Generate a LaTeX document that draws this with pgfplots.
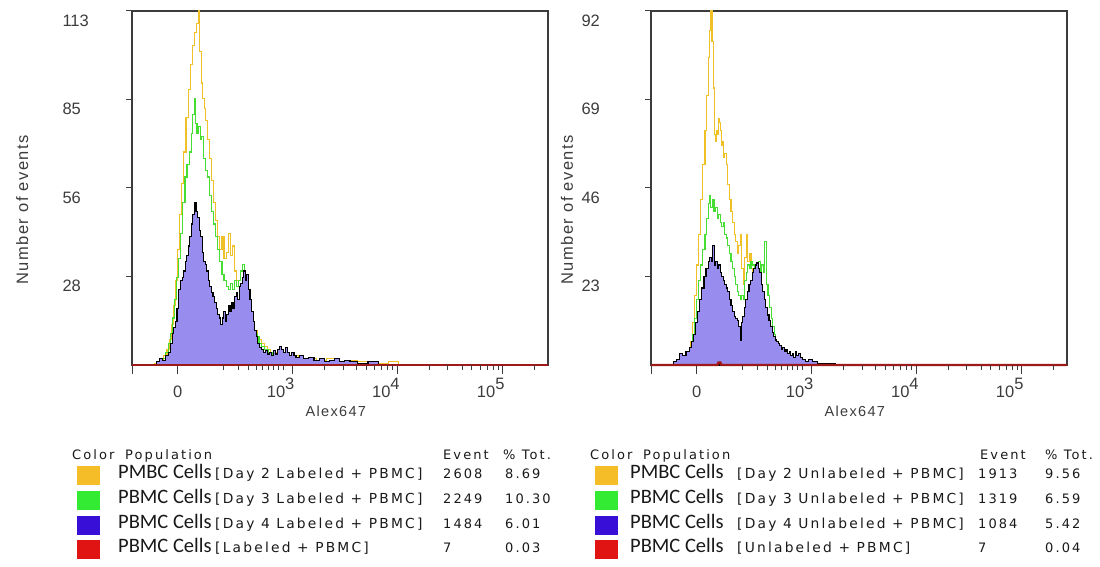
\documentclass[border=0pt]{standalone}
\usepackage{fontspec}
\setmainfont{Liberation Sans}
\newfontfamily\lsw[LetterSpace=9]{Liberation Sans}
\newfontfamily\dvw[LetterSpace=16]{DejaVu Sans}
\newfontfamily\carl{Carlito}
\usepackage{pgfplots}
\pgfplotsset{compat=1.18}

\definecolor{yel}{RGB}{240,192,40}
\definecolor{grn}{RGB}{70,222,50}
\definecolor{lav}{RGB}{152,140,238}
\definecolor{dred}{RGB}{160,25,25}
\definecolor{sqy}{RGB}{245,190,40}
\definecolor{sqg}{RGB}{50,235,50}
\definecolor{sqb}{RGB}{55,15,215}
\definecolor{sqr}{RGB}{225,20,20}
\definecolor{axc}{RGB}{60,60,60}

\newcommand\ticf{\fontsize{16.5}{17}\selectfont}
\newcommand\dec[1]{10\raisebox{8pt}{#1}\kern24pt}
% positions of the short ticks on the Alex647 axis
\newcommand\minorlist{0.44,0.59,0.69,0.765,0.825,0.88,0.93,0.975,1.025,1.43,1.61,1.735,1.835,1.915,1.985,2.04,2.09,2.445,2.625,2.77,2.86,2.94,3.01,3.065,3.115,3.47}

\pgfplotsset{
  flowax/.style={
    scale only axis, width=416pt, height=354pt, anchor=south west,
    xmin=-0.445, xmax=3.60, ymin=0, clip=false,
    axis line style={axc, line width=1.1pt},
    tick style={axc, line width=1pt},
    tick align=outside, tick pos=left,
    major tick length=9pt,
    xtick={-0.445,0,1.117,2.14,3.16},
    xticklabels={,0,\dec{3},\dec{4},\dec{5}},
    ytick=\empty,
    extra y tick style={major tick length=6pt},
    xticklabel style={font=\ticf, text=axc, anchor=base, yshift=-24pt},
    yticklabel style={font=\ticf, text=axc, anchor=north west, xshift=-67pt, yshift=0pt},
    xlabel={Alex647},
    xlabel style={font=\lsw\fontsize{14.5}{15}\selectfont, text=axc,
      at={(axis description cs:0.49,0)}, anchor=center, yshift=-46pt},
    ylabel={Number of events},
    ylabel style={font=\lsw\fontsize{16.5}{17}\selectfont, text=axc, anchor=center},
  },
  yl/.style={yel, line width=1.1pt, const plot mark mid},
  gl/.style={grn, line width=1.1pt, const plot mark mid},
  pl/.style={fill=lav, draw=black, line width=1.1pt, const plot mark mid},
  rl/.style={dred, line width=2.4pt},
}
\tikzset{lt/.style={anchor=base west, inner sep=0pt, text=black!90}}

\begin{document}
\begin{tikzpicture}
\path[use as bounding box] (0,0) rectangle (1100pt,567pt);

% ---------------- left histogram ----------------
\begin{axis}[flowax, at={(132pt,202pt)}, ymax=113,
  extra y ticks={28.25,56.5,84.75,113}, extra y tick labels={28,56,85,113},
  ylabel style={at={(axis description cs:-0.264,0.438)}}]
\addplot[yl] coordinates {
(-0.25,0) (-0.20,0.5) (-0.15,1.5) (-0.12,3) (-0.09,5) (-0.07,8) (-0.05,13)
(-0.03,19) (-0.01,27) (0.01,37) (0.03,48) (0.05,58) (0.07,68) (0.09,79)
(0.11,88) (0.13,96) (0.15,102) (0.17,106) (0.19,109) (0.205,113) (0.22,100)
(0.235,90) (0.25,85) (0.265,82) (0.28,78) (0.30,72) (0.32,66) (0.34,59)
(0.36,52) (0.38,46) (0.40,41) (0.42,37) (0.44,41) (0.46,34) (0.48,36)
(0.50,42) (0.52,35) (0.54,38) (0.56,30) (0.58,27) (0.60,25) (0.62,23)
(0.64,21) (0.66,19) (0.68,17) (0.70,16) (0.72,14) (0.74,12) (0.76,11)
(0.78,9) (0.80,8) (0.83,7) (0.86,6) (0.89,5) (0.92,4) (0.96,4) (1.00,3)
(1.05,3) (1.10,2.5) (1.15,3) (1.20,2) (1.30,2) (1.40,1.5) (1.50,2) (1.60,1)
(1.70,1.5) (1.80,1) (1.90,1) (2.00,0.5) (2.10,1) (2.20,0) (3.59,0)};
\addplot[gl] coordinates {
(-0.22,0) (-0.17,1) (-0.13,2) (-0.10,4) (-0.08,7) (-0.06,10) (-0.04,15)
(-0.02,21) (0.00,28) (0.02,34) (0.04,42) (0.06,52) (0.08,60) (0.10,64)
(0.12,68) (0.14,74) (0.155,80) (0.165,85) (0.18,77) (0.195,74) (0.21,76)
(0.225,72) (0.24,73) (0.26,66) (0.28,62) (0.30,60) (0.32,54) (0.34,49)
(0.36,45) (0.38,41) (0.40,37) (0.42,33) (0.44,29) (0.46,27) (0.48,25)
(0.50,24) (0.52,26) (0.54,24) (0.56,27) (0.58,25) (0.60,27) (0.62,30)
(0.64,32) (0.66,28) (0.68,22) (0.70,17) (0.72,15) (0.74,12) (0.76,10)
(0.78,9) (0.80,7) (0.83,6) (0.86,5) (0.90,4) (0.95,3.5) (1.00,3) (1.10,2.5)
(1.20,2) (1.30,1.5) (1.40,1) (1.55,1) (1.70,0.5) (1.85,0.5) (2.00,0) (3.59,0)};
\addplot[pl] coordinates {
(-0.22,0) (-0.19,1) (-0.16,2) (-0.13,1.5) (-0.10,3) (-0.08,4) (-0.06,7)
(-0.045,10) (-0.03,12) (-0.015,14) (0.00,18) (0.02,24) (0.035,27) (0.05,28)
(0.065,30) (0.08,33) (0.095,35) (0.11,38) (0.125,41) (0.14,45) (0.155,48)
(0.17,52) (0.185,49) (0.20,47) (0.215,43) (0.23,41) (0.245,36) (0.26,33)
(0.275,32) (0.29,30) (0.305,27) (0.32,25) (0.335,23) (0.35,22) (0.365,20)
(0.38,18) (0.395,16) (0.41,15) (0.425,13) (0.44,15) (0.455,17) (0.47,14)
(0.485,16) (0.50,19) (0.515,17) (0.53,20) (0.545,18) (0.56,22) (0.575,23)
(0.59,21) (0.605,25) (0.62,26) (0.635,28) (0.65,30) (0.665,27) (0.68,29)
(0.695,24) (0.71,21) (0.725,17) (0.74,14) (0.755,11) (0.77,9) (0.785,7)
(0.80,5.5) (0.82,5) (0.84,4) (0.86,4.5) (0.88,3.5) (0.90,4) (0.92,3)
(0.94,4.5) (0.96,3.5) (0.98,5) (1.00,6) (1.02,5) (1.04,4) (1.06,5.5)
(1.08,4) (1.10,3) (1.12,4) (1.14,3) (1.16,2.5) (1.20,3) (1.25,2) (1.30,2.5)
(1.35,1.5) (1.40,2) (1.45,1) (1.50,1.5) (1.55,2) (1.60,1) (1.65,1.5)
(1.70,1) (1.80,0.5) (1.90,1) (2.00,0) (3.59,0)} \closedcycle;
\addplot[rl] coordinates {(-0.445,0) (3.60,0)};
\expandafter\pgfplotsinvokeforeach\expandafter{\minorlist}{
  \draw[axc, line width=0.9pt] (axis cs:#1,0) -- ++(0pt,-5pt);}
\end{axis}

% ---------------- right histogram ----------------
\begin{axis}[flowax, at={(651pt,202pt)}, ymax=92,
  extra y ticks={23,46,69,92}, extra y tick labels={23,46,69,92},
  ylabel style={at={(axis description cs:-0.202,0.438)}}]
\addplot[yl] coordinates {
(-0.25,0) (-0.15,1) (-0.10,2) (-0.07,3) (-0.05,6) (-0.03,11) (-0.01,18)
(0.01,26) (0.03,34) (0.05,43) (0.07,52) (0.09,61) (0.105,70) (0.12,80)
(0.13,87) (0.142,92) (0.155,84) (0.165,72) (0.175,60) (0.185,58) (0.195,61)
(0.205,60) (0.215,64) (0.225,63) (0.235,61) (0.245,57) (0.255,58) (0.265,54)
(0.28,55) (0.295,52) (0.31,47) (0.325,43) (0.34,40) (0.355,37) (0.37,34)
(0.385,32) (0.40,29) (0.415,31) (0.43,34) (0.445,25) (0.46,21) (0.475,28)
(0.49,34) (0.505,27) (0.52,29) (0.535,25) (0.55,21) (0.565,19) (0.58,17)
(0.60,15) (0.62,13) (0.64,11) (0.66,9) (0.68,6.5) (0.70,5) (0.72,4)
(0.75,3) (0.78,2) (0.82,1.5) (0.88,1) (0.95,0.5) (1.05,0) (3.59,0)};
\addplot[gl] coordinates {
(-0.20,0) (-0.12,1) (-0.08,2) (-0.05,4) (-0.03,8) (-0.01,12) (0.01,17)
(0.03,22) (0.05,26) (0.07,30) (0.09,34) (0.105,38) (0.12,42) (0.13,44)
(0.145,41) (0.16,43) (0.175,40) (0.19,41) (0.205,38) (0.22,39) (0.235,37)
(0.25,36) (0.265,37) (0.28,34) (0.295,33) (0.31,31) (0.325,29) (0.34,27)
(0.355,25) (0.37,23) (0.385,21) (0.40,19) (0.415,18) (0.43,17) (0.445,18)
(0.46,17) (0.475,22) (0.49,24) (0.505,26) (0.52,25) (0.535,27) (0.55,26)
(0.565,25) (0.58,24) (0.595,26) (0.61,27) (0.625,23) (0.64,26) (0.655,24)
(0.67,32) (0.685,21) (0.70,18) (0.715,15) (0.73,12) (0.745,10) (0.76,8)
(0.775,6) (0.79,5) (0.81,4) (0.84,3) (0.88,2) (0.93,1.5) (1.00,1)
(1.10,0.5) (1.20,0) (3.59,0)};
\addplot[pl] coordinates {
(-0.24,0) (-0.21,1) (-0.18,1.5) (-0.15,3) (-0.12,2.5) (-0.09,3.5) (-0.06,4.5)
(-0.04,6) (-0.02,8) (0.00,11) (0.02,14) (0.04,17) (0.06,20) (0.08,23)
(0.10,25) (0.12,27) (0.135,28) (0.15,27) (0.162,31) (0.175,26) (0.19,27)
(0.205,25) (0.22,26) (0.235,24) (0.25,23) (0.265,22) (0.28,21) (0.295,20)
(0.31,19) (0.325,17) (0.34,15.5) (0.355,14) (0.37,12.5) (0.385,12) (0.40,11.5)
(0.415,10) (0.427,6.5) (0.44,11) (0.455,12.5) (0.47,15) (0.485,17) (0.50,19)
(0.515,21) (0.53,22) (0.545,24) (0.56,25) (0.575,26) (0.59,26.5) (0.605,25)
(0.62,24) (0.635,21) (0.65,19) (0.665,17) (0.68,15) (0.695,13) (0.71,11.5)
(0.725,10) (0.74,8.5) (0.755,7.5) (0.77,6.5) (0.785,6) (0.80,5.5) (0.815,5)
(0.83,4) (0.845,4.5) (0.86,3.5) (0.875,4) (0.89,3) (0.905,3.5) (0.92,2.5)
(0.935,3) (0.95,2) (0.965,3.5) (0.98,2.5) (1.00,3) (1.02,2) (1.04,1.5)
(1.07,1) (1.10,1.5) (1.15,1) (1.20,0.5) (1.30,0.5) (1.40,0) (3.59,0)} \closedcycle;
\addplot[rl] coordinates {(-0.445,0) (0.2,0) (0.21,0.6) (0.23,0.6) (0.24,0) (3.60,0)};
\expandafter\pgfplotsinvokeforeach\expandafter{\minorlist}{
  \draw[axc, line width=0.9pt] (axis cs:#1,0) -- ++(0pt,-5pt);}
\end{axis}

% ---------------- population tables ----------------
\begin{scope}[every node/.style={lt}]
\def\hd{\dvw\fontsize{13}{13}\selectfont}
\def\bk{\dvw\fontsize{13.8}{14}\selectfont}
\def\cc{\carl\fontsize{20.5}{20}\selectfont}
% left
\node[font=\hd] at (72pt,107pt) {Color};
\node[font=\hd] at (125pt,107pt) {Population};
\node[font=\hd] at (443pt,107pt) {Event};
\node[font=\hd] at (503pt,107pt) {\% Tot.};
\foreach \c/\y in {sqy/91,sqg/66,sqb/41.5,sqr/17}
  \node[fill=\c, minimum width=23pt, minimum height=19pt, anchor=center] at (88.5pt,\y pt) {};
\foreach \a/\b/\e/\p/\y in {PMBC/Day 2 Labeled + PBMC/2608/8.69/88,
    PBMC/Day 3 Labeled + PBMC/2249/10.30/63.3,
    PBMC/Day 4 Labeled + PBMC/1484/6.01/38.6,
    PBMC/Labeled + PBMC/7/0.03/14}{
  \node[font=\cc] at (118pt,\y pt) {\a\ Cells};
  \node[font=\bk] at (215pt,\y pt) {[\b]};
  \node[font=\hd] at (443pt,\y pt) {\e};
  \node[font=\hd] at (505pt,\y pt) {\p};
}
% right
\node[font=\hd] at (590pt,107pt) {Color};
\node[font=\hd] at (643pt,107pt) {Population};
\node[font=\hd] at (980pt,107pt) {Event};
\node[font=\hd] at (1045pt,107pt) {\% Tot.};
\foreach \c/\y in {sqy/91,sqg/66,sqb/41.5,sqr/17}
  \node[fill=\c, minimum width=23pt, minimum height=19pt, anchor=center] at (606.5pt,\y pt) {};
\foreach \a/\b/\e/\p/\y in {PMBC/Day 2 Unlabeled + PBMC/1913/9.56/88,
    PBMC/Day 3 Unlabeled + PBMC/1319/6.59/63.3,
    PBMC/Day 4 Unlabeled + PBMC/1084/5.42/38.6,
    PBMC/Unlabeled + PBMC/7/0.04/14}{
  \node[font=\cc] at (630pt,\y pt) {\a\ Cells};
  \node[font=\bk] at (737pt,\y pt) {[\b]};
  \node[font=\hd] at (978pt,\y pt) {\e};
  \node[font=\hd] at (1045pt,\y pt) {\p};
}
\end{scope}
\end{tikzpicture}
\end{document}
